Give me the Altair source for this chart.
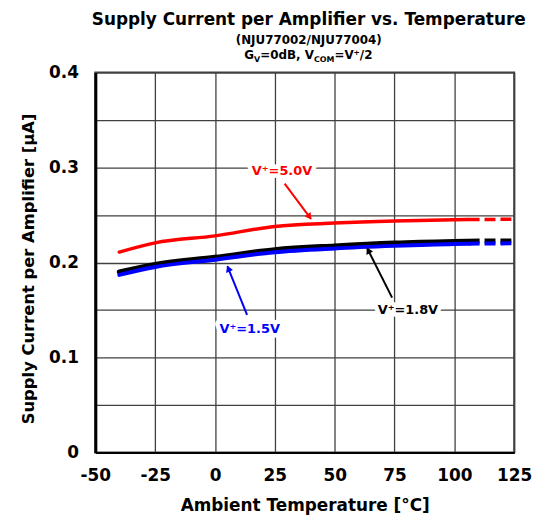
import math
import altair as alt
import pandas as pd

# ---------------- data ----------------
temps = [-40, -25, 0, 25, 50, 75, 100, 106]
temps_ext = [106, 125]

i_5v0 = [0.211, 0.2207, 0.228, 0.238, 0.2415, 0.2437, 0.245, 0.2452]
i_5v0_ext = [0.2452, 0.2455]
i_1v8 = [0.190, 0.198, 0.2055, 0.2135, 0.2175, 0.2205, 0.2222, 0.2225]
i_1v8_ext = [0.2225, 0.2228]
i_1v5 = [0.187, 0.1953, 0.2030, 0.2108, 0.2148, 0.2175, 0.2195, 0.2198]
i_1v5_ext = [0.2198, 0.2202]

x_ticks = [-50, -25, 0, 25, 50, 75, 100, 125]
y_ticks = [0, 0.05, 0.1, 0.15, 0.2, 0.25, 0.3, 0.35, 0.4]

ann_labels = ["V\u207a=5.0V", "V\u207a=1.8V", "V\u207a=1.5V"]
ann_colors = ["#ff0000", "#000000", "#0000ff"]
ann_text_x = [28.0, 80.6, 14.5]
ann_text_y = [0.2966, 0.150, 0.1295]
ann_from_x = [29.1, 74.0, 13.4]
ann_from_y = [0.283, 0.163, 0.145]
ann_to_x = [40.1, 63.6, 5.2]
ann_to_y = [0.246, 0.215, 0.196]

# ---------------- layout ----------------
W, H = 422, 383
X_DOM = [-50, 125]
Y_DOM = [0, 0.4]
F = "DejaVu Sans"
sx = W / (X_DOM[1] - X_DOM[0])
sy = H / (Y_DOM[1] - Y_DOM[0])

x_axis = alt.Axis(values=x_ticks, title="Ambient Temperature [°C]", grid=True,
                  labelExpr="'' + datum.value",
                  gridColor="#404040", gridWidth=1.3, ticks=False,
                  domainColor="black", domainWidth=2, labelFont=F,
                  labelFontSize=17, labelFontWeight="bold", labelColor="black",
                  labelPadding=15, labelFlush=False, labelOverlap=False,
                  titleFont=F, titleFontSize=17, titleFontWeight="bold",
                  titleColor="black", titlePadding=14)
y_axis = alt.Axis(values=y_ticks, title="Supply Current per Amplifier [μA]",
                  labelExpr="round(datum.value*20) % 2 == 0 ? format(datum.value, '.1~f') : ''",
                  grid=True, gridColor="#404040", gridWidth=1.3, ticks=False,
                  domainColor="black", domainWidth=3, labelFont=F,
                  labelFontSize=17, labelFontWeight="bold", labelColor="black",
                  labelPadding=17, labelOverlap=False, labelFlush=False,
                  titleFont=F, titleFontSize=16.5, titleFontWeight="bold",
                  titleColor="black", titlePadding=12, titleY=H / 2 + 6)

x_scale = alt.Scale(domain=X_DOM, nice=False, zero=False)
y_scale = alt.Scale(domain=Y_DOM, nice=False, zero=False)


def xe(field):
    return alt.X(f"{field}:Q", scale=x_scale, axis=x_axis)


def ye(field):
    return alt.Y(f"{field}:Q", scale=y_scale, axis=y_axis)


layers = []

# grid/axes carrier (invisible)
base = alt.Chart(pd.DataFrame({"t": X_DOM, "v": Y_DOM})).mark_point(opacity=0).encode(
    x=xe("t"), y=ye("v"))
layers.append(base)

series = [
    (i_5v0, i_5v0_ext, "#ff0000", 3.5),
    (i_1v8, i_1v8_ext, "#000000", 5),
    (i_1v5, i_1v5_ext, "#0000ff", 4),
]
for vals, ext, col, sw in series:
    d1 = pd.DataFrame({"t": temps, "v": vals})
    d2 = pd.DataFrame({"t": temps_ext, "v": ext})
    layers.append(alt.Chart(d1).mark_line(color=col, strokeWidth=sw, strokeCap="round",
                                          interpolate="monotone").encode(x=xe("t"), y=ye("v")))
    layers.append(alt.Chart(d2).mark_line(color=col, strokeWidth=sw, strokeDash=[11, 5],
                                          strokeCap="butt").encode(x=xe("t"), y=ye("v")))

# annotations
angles, hx, hy = [], [], []
for fx, fy, tx, ty in zip(ann_from_x, ann_from_y, ann_to_x, ann_to_y):
    dx = (tx - fx) * sx
    dy = -(ty - fy) * sy  # screen down positive
    ang = math.degrees(math.atan2(dx, -dy)) % 360
    L = math.hypot(dx, dy)
    back = 3.5
    hx.append(tx - back * dx / L / sx)
    hy.append(ty + back * dy / L / sy)
    angles.append(ang)

ann = pd.DataFrame({"label": ann_labels, "color": ann_colors,
                    "tx": ann_text_x, "ty": ann_text_y,
                    "fx": ann_from_x, "fy": ann_from_y,
                    "ex": ann_to_x, "ey": ann_to_y,
                    "hx": hx, "hy": hy, "ang": angles})

col_enc = alt.Color("color:N", scale=None)
layers.append(alt.Chart(ann).mark_rule(strokeWidth=2).encode(
    x=xe("fx"), y=ye("fy"), x2="ex:Q", y2="ey:Q", color=col_enc))
layers.append(alt.Chart(ann).mark_point(shape="triangle", filled=True, size=55, opacity=1).encode(
    x=xe("hx"), y=ye("hy"), angle=alt.Angle("ang:Q", scale=None), color=col_enc))
layers.append(alt.Chart(ann).mark_text(font=F, fontSize=13, fontWeight="bold", fill="white",
                                       stroke="white", strokeWidth=9, strokeJoin="round").encode(
    x=xe("tx"), y=ye("ty"), text="label:N"))
layers.append(alt.Chart(ann).mark_text(font=F, fontSize=13, fontWeight="bold").encode(
    x=xe("tx"), y=ye("ty"), text="label:N", color=col_enc))

# titles
one = alt.Data(values=[{"a": 1}])


def txt(s, x, y, size, align="center"):
    return alt.Chart(one).mark_text(text=s, font=F, fontSize=size, fontWeight="bold",
                                    color="black", align=align, baseline="alphabetic").encode(
        x=alt.value(x), y=alt.value(y))


layers.append(txt("Supply Current per Amplifier vs. Temperature", 215, -48, 17))
layers.append(txt("(NJU77002/NJU77004)", 215, -29, 12))
x0 = 150
layers.append(txt("G", x0, -14, 12, "left"))
layers.append(txt("V", x0 + 9.9, -11, 8, "left"))
layers.append(txt("=0dB, V", x0 + 16.1, -14, 12, "left"))
layers.append(txt("COM", x0 + 70.3, -11, 8, "left"))
layers.append(txt("=V\u207a/2", x0 + 90.9, -14, 12, "left"))

chart = alt.layer(*layers).properties(
    width=W, height=H,
    autosize=alt.AutoSizeParams(type="none"),
    padding={"left": 88, "top": 63, "right": 20, "bottom": 66},
).configure_view(stroke="#404040", strokeWidth=2)

chart.save("out.html", embed_options={"renderer": "svg", "actions": False})
